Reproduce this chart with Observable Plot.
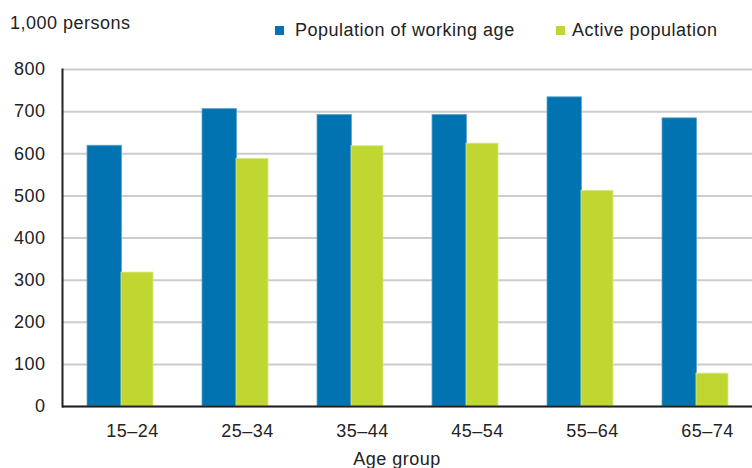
<!DOCTYPE html>
<html>
<head>
<meta charset="utf-8">
<script src="https://cdn.jsdelivr.net/npm/d3@7"></script>
<script src="https://cdn.jsdelivr.net/npm/@observablehq/plot@0.6"></script>
<style>
  html, body { margin: 0; padding: 0; background: #fff; }
  #wrap { position: relative; width: 752px; height: 468px; overflow: hidden; background: #fff;
          font-family: "Liberation Sans", Arial, sans-serif; font-size: 18px; color: #222; letter-spacing: 0.5px; }
  #wrap svg { position: absolute; left: 0; top: 0; }
  .ov { position: absolute; line-height: 18px; white-space: nowrap; }
  .sw { position: absolute; width: 9px; height: 9px; }
</style>
</head>
<body>
<div id="wrap"></div>
<script>
const ages = ["15–24", "25–34", "35–44", "45–54", "55–64", "65–74"];
const working = [619, 706, 692, 692, 734, 684];
const active = [318, 588, 618, 624, 512, 78];
const seriesNames = ["Population of working age", "Active population"];
const seriesColors = ["#0073B0", "#BFD730"];
const yTicks = [0, 100, 200, 300, 400, 500, 600, 700, 800];
const unitLabel = "1,000 persons";
const xLabel = "Age group";

const workingData = ages.map((a, i) => ({age: a, value: working[i], series: seriesNames[0]}));
const activeData = ages.map((a, i) => ({age: a, value: active[i], series: seriesNames[1]}));

const chart = Plot.plot({
  width: 752,
  height: 468,
  marginLeft: 62,
  marginRight: 0,
  marginTop: 69,
  marginBottom: 62,
  x: {domain: ages, paddingInner: 0.43, paddingOuter: 0.215, axis: null},
  y: {domain: [0, 800], axis: null},
  color: {domain: seriesNames, range: seriesColors},
  style: {fontFamily: "'Liberation Sans', Arial, sans-serif", fontSize: "18px", color: "#222", background: "transparent", letterSpacing: "0.5px", overflow: "visible"},
  marks: [
    Plot.gridY(yTicks, {stroke: "#cccccc", strokeWidth: 2, strokeOpacity: 1}),
    Plot.barY(workingData, {x: "age", y: "value", fill: "series", insetRight: 31.5, stroke: "#5ea6d0", strokeWidth: 0.8}),
    Plot.barY(activeData, {x: "age", y: "value", fill: "series", insetLeft: 34, stroke: "#dbe98a", strokeWidth: 0.8}),
    Plot.axisY(yTicks, {tickSize: 0, tickPadding: 17, tickFormat: d3.format("d"), fontSize: 18, fill: "#222", label: null}),
    Plot.axisX({tickSize: 0, tickPadding: 18, dx: 12, fontSize: 18, fill: "#222", label: null}),
    Plot.frame({anchor: "left", stroke: "#222", strokeWidth: 2}),
    Plot.ruleY([0], {stroke: "#222", strokeWidth: 2})
  ]
});

const wrap = document.getElementById("wrap");
wrap.appendChild(chart);

function addText(txt, left, top, center) {
  const d = document.createElement("div");
  d.className = "ov";
  d.textContent = txt;
  d.style.left = left + "px";
  d.style.top = top + "px";
  if (center) d.style.transform = "translateX(-50%)";
  wrap.appendChild(d);
}
function addSwatch(color, left, top) {
  const s = document.createElement("div");
  s.className = "sw";
  s.style.background = color;
  s.style.left = left + "px";
  s.style.top = top + "px";
  wrap.appendChild(s);
}

addText(unitLabel, 10, 13.7, false);
addSwatch(seriesColors[0], 275, 26);
addText(seriesNames[0], 295, 20.7, false);
addSwatch(seriesColors[1], 556, 26);
addText(seriesNames[1], 572, 20.7, false);
addText(xLabel, 397, 449.7, true);
</script>
</body>
</html>
